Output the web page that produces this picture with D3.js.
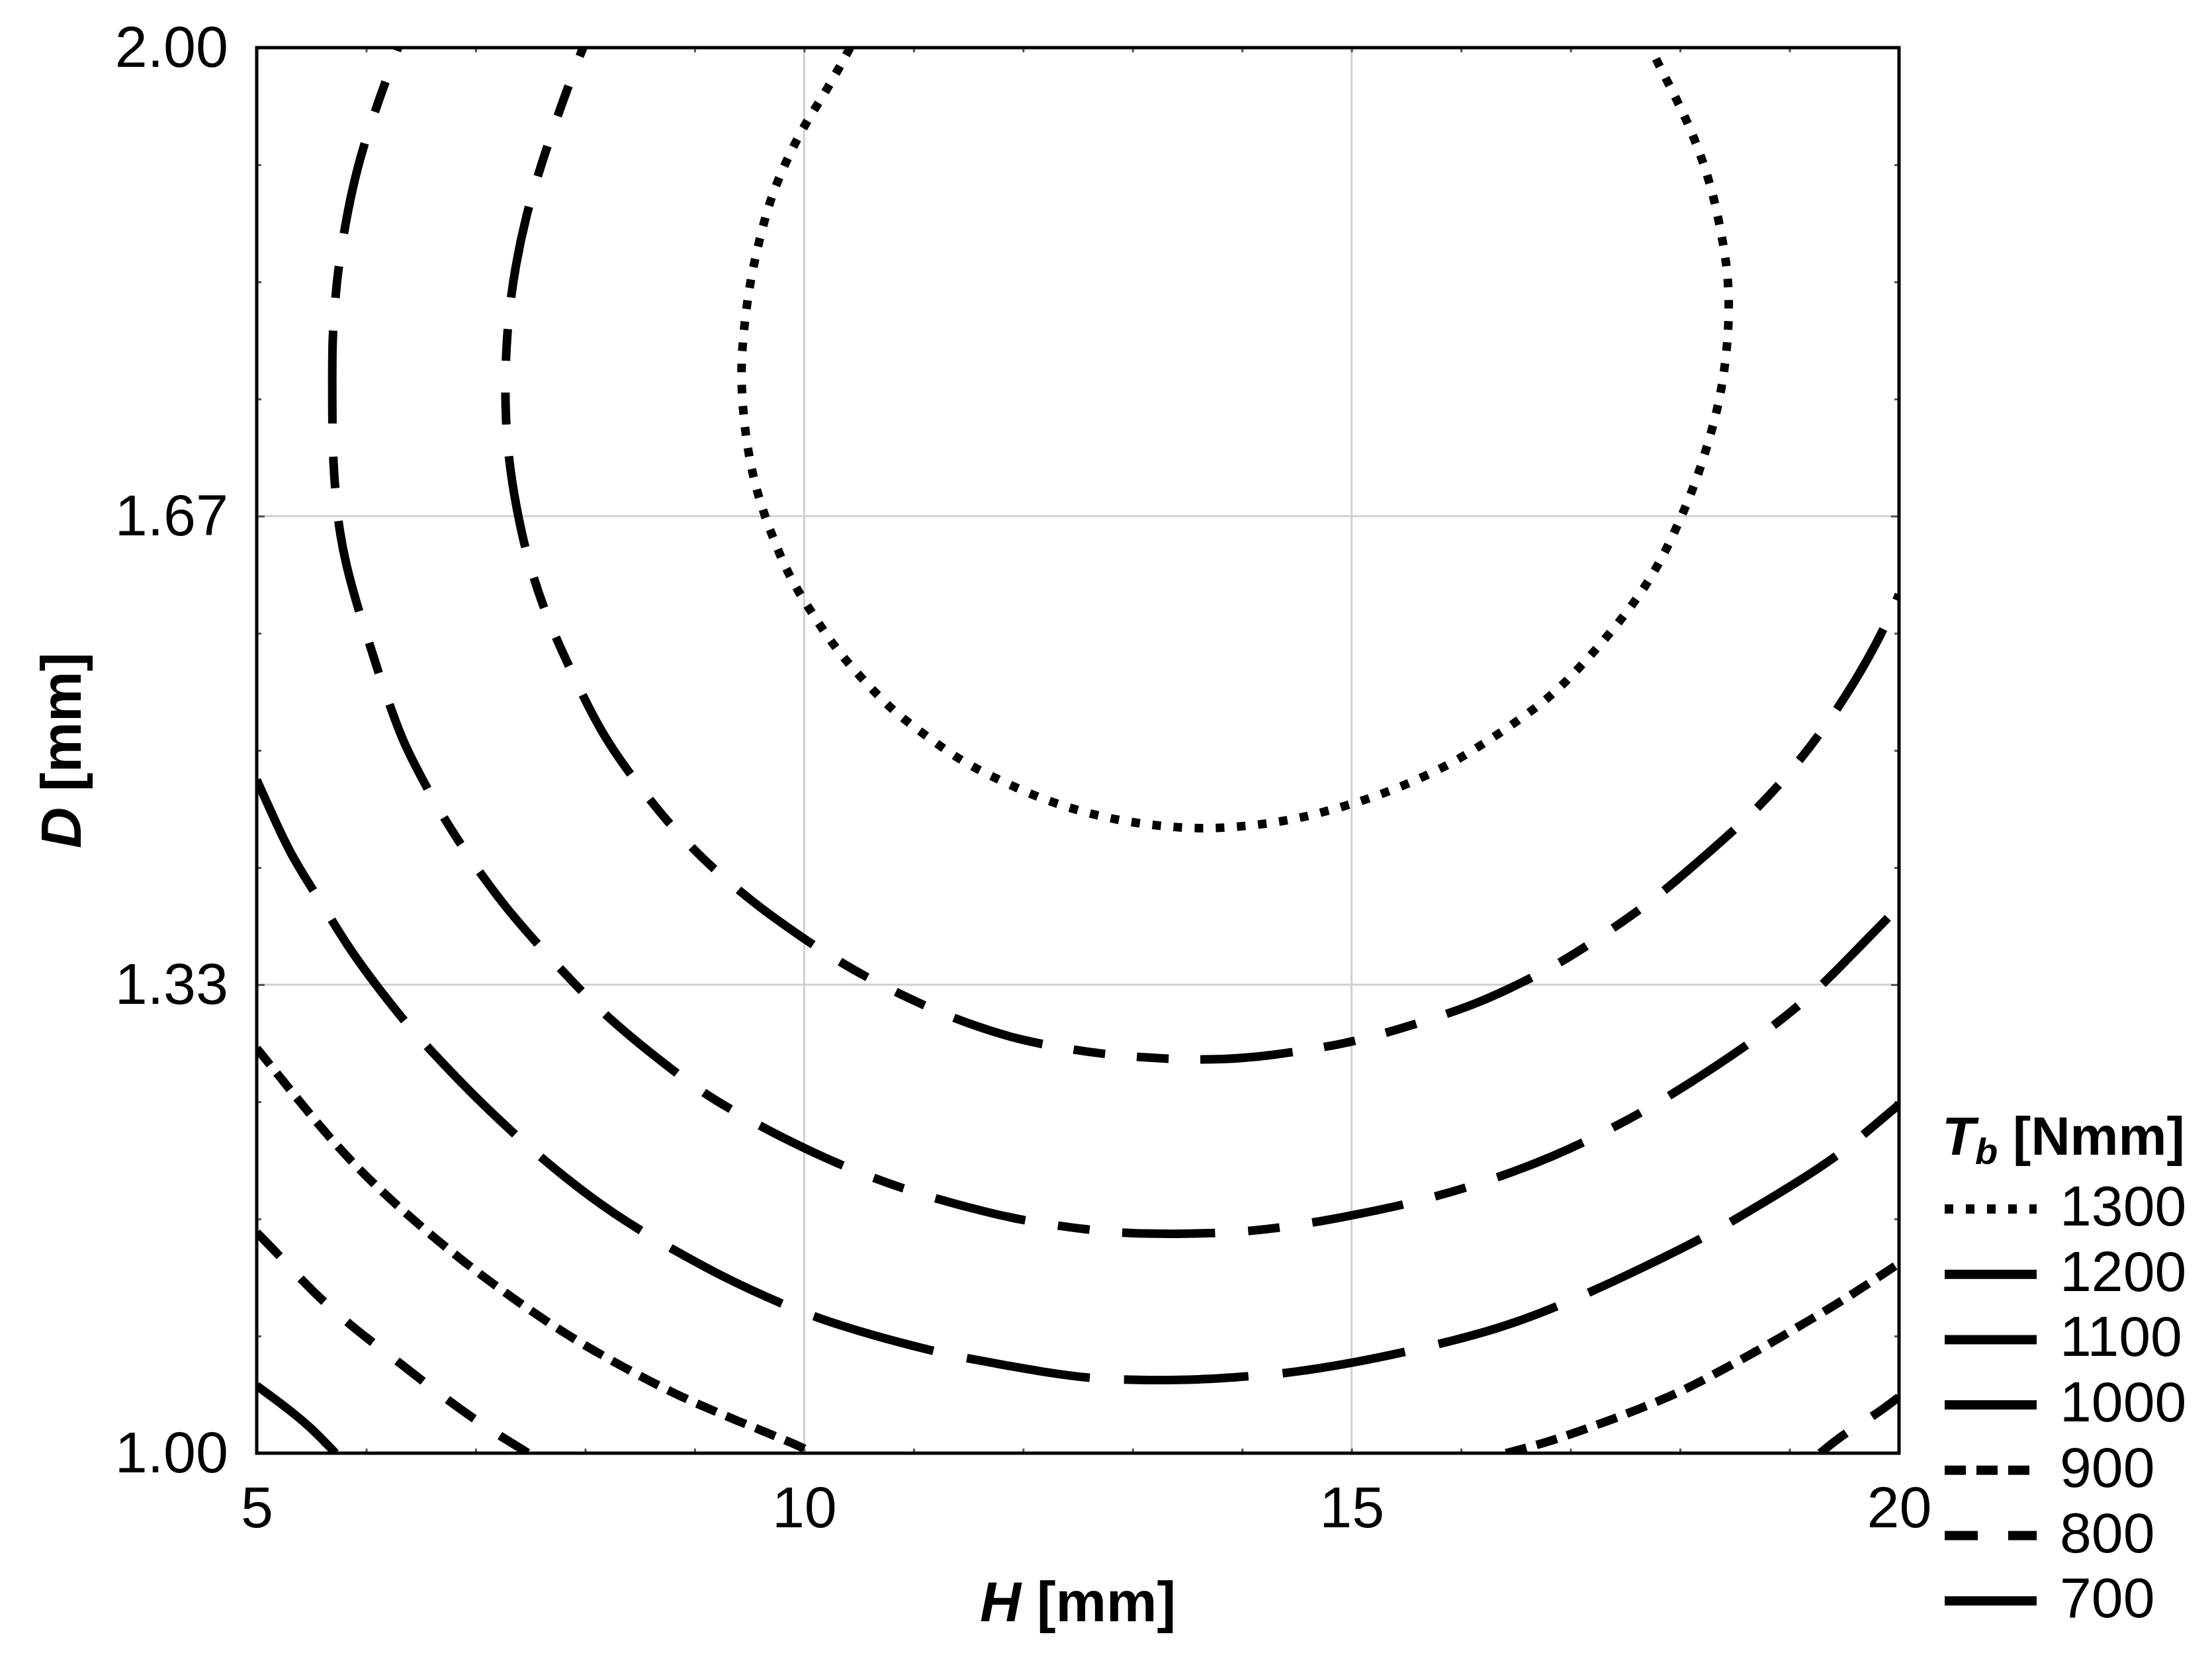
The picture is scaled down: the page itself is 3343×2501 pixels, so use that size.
<!DOCTYPE html>
<html><head><meta charset="utf-8">
<script src="https://cdn.jsdelivr.net/npm/d3@7"></script>
<style>html,body{margin:0;padding:0;background:#fff;} svg{display:block;}</style>
</head><body>
<script>
// ---------- data ----------
const levels = [1300, 1200, 1100, 1000, 900, 800, 700];
const xTicks = [5, 10, 15, 20];
const yTicks = [1.0, 4/3, 5/3, 2.0];
const yTickLabels = ["1.00", "1.33", "1.67", "2.00"];

// contour lines, [H, D] points
const tb1300 = [[10.42,2.0],[10.21,1.970],[10.0,1.945],[9.82,1.917],[9.68,1.890],[9.58,1.860],[9.50,1.831],[9.45,1.801],[9.42,1.771],[9.44,1.741],[9.49,1.710],[9.58,1.680],[9.71,1.652],[9.86,1.624],[10.06,1.599],[10.28,1.573],[10.54,1.550],[10.81,1.528],[11.12,1.510],[11.44,1.492],[11.78,1.479],[12.12,1.467],[12.50,1.457],[12.88,1.450],[13.26,1.446],[13.65,1.444],[14.04,1.446],[14.43,1.450],[14.79,1.457],[15.18,1.466],[15.54,1.477],[15.90,1.490],[16.21,1.505],[16.54,1.522],[16.86,1.541],[17.12,1.562],[17.38,1.585],[17.62,1.609],[17.82,1.634],[17.99,1.662],[18.14,1.690],[18.26,1.719],[18.36,1.748],[18.42,1.778],[18.45,1.808],[18.44,1.839],[18.38,1.867],[18.30,1.897],[18.18,1.926],[18.03,1.954],[17.85,1.981],[17.73,2.0]];
const tb1200 = [[7.98,2.0],[7.77,1.957],[7.59,1.915],[7.46,1.881],[7.36,1.844],[7.30,1.810],[7.27,1.775],[7.27,1.736],[7.31,1.701],[7.38,1.669],[7.47,1.637],[7.64,1.596],[7.85,1.560],[8.15,1.511],[8.48,1.476],[8.77,1.447],[9.16,1.416],[9.61,1.387],[10.0,1.366],[10.21,1.355],[10.60,1.337],[11.13,1.317],[11.55,1.304],[11.97,1.294],[12.38,1.288],[12.81,1.283],[13.40,1.280],[13.85,1.280],[14.27,1.283],[14.69,1.288],[15.02,1.293],[15.27,1.298],[15.70,1.308],[16.15,1.320],[16.51,1.333],[16.89,1.348],[17.27,1.367],[17.75,1.393],[18.14,1.419],[18.71,1.458],[19.09,1.492],[19.45,1.530],[19.81,1.577],[20.0,1.611]];
const tb1100 = [[6.29,2.0],[6.12,1.964],[5.97,1.929],[5.87,1.899],[5.79,1.866],[5.74,1.840],[5.71,1.815],[5.69,1.790],[5.69,1.763],[5.69,1.730],[5.70,1.704],[5.72,1.682],[5.75,1.659],[5.81,1.633],[5.94,1.597],[6.05,1.571],[6.13,1.551],[6.23,1.529],[6.34,1.505],[6.57,1.471],[6.76,1.445],[7.09,1.407],[7.31,1.385],[7.59,1.360],[7.83,1.340],[8.22,1.308],[8.87,1.268],[9.16,1.252],[9.66,1.230],[10.0,1.217],[10.42,1.202],[10.97,1.186],[11.68,1.171],[12.10,1.164],[12.69,1.158],[13.00,1.156],[13.85,1.156],[14.43,1.161],[15.0,1.169],[15.56,1.178],[16.15,1.191],[16.83,1.210],[17.51,1.236],[18.01,1.259],[18.71,1.295],[19.16,1.323],[19.40,1.341],[20.0,1.389]];
const tb1000 = [[5.0,1.479],[5.15,1.453],[5.31,1.426],[5.52,1.400],[5.68,1.380],[5.83,1.361],[6.02,1.340],[6.34,1.308],[6.57,1.288],[6.96,1.256],[7.34,1.228],[7.60,1.210],[8.06,1.181],[8.51,1.158],[8.80,1.145],[9.29,1.124],[9.80,1.106],[10.13,1.096],[10.61,1.084],[11.21,1.072],[11.52,1.067],[12.23,1.057],[12.65,1.053],[13.00,1.052],[13.62,1.052],[14.11,1.055],[14.43,1.057],[15.0,1.064],[15.56,1.073],[16.34,1.088],[16.94,1.106],[17.64,1.131],[18.28,1.156],[18.54,1.168],[19.06,1.192],[19.50,1.215],[19.74,1.231],[20.0,1.248]];
const tb900a = [[5.0,1.288],[5.24,1.265],[5.60,1.230],[5.99,1.197],[6.44,1.165],[6.89,1.136],[7.34,1.110],[7.83,1.084],[8.35,1.061],[8.84,1.041],[9.42,1.022],[10.0,1.004],[10.06,1.0]];
const tb900b = [[16.41,1.0],[16.80,1.008],[17.09,1.016],[17.38,1.024],[17.64,1.032],[17.93,1.041],[18.19,1.051],[18.45,1.062],[18.71,1.073],[18.93,1.083],[19.19,1.095],[19.45,1.107],[19.71,1.120],[20.0,1.135]];
const tb800a = [[5.0,1.157],[5.19,1.142],[5.40,1.124],[5.62,1.107],[5.86,1.091],[6.07,1.078],[6.31,1.064],[6.52,1.051],[6.76,1.037],[6.99,1.024],[7.25,1.011],[7.48,1.0]];
const tb800b = [[19.28,1.0],[19.48,1.013],[19.78,1.027],[20.0,1.040]];
const tb700 = [[5.0,1.048],[5.28,1.032],[5.50,1.018],[5.72,1.0]];

// ---------- styles ----------
const dashStyle = {
  1300: "13,19",
  1200: "140,48,48,48,48,48",
  1100: "140,50,48,50",
  1000: "188,52",
  900: "32,16",
  800: "50,46",
  700: null
};
const lines = [
  {level:1300, pts:tb1300, off:0},
  {level:1200, pts:tb1200, off:126},
  {level:1100, pts:tb1100, off:135},
  {level:1000, pts:tb1000, off:0},
  {level:900, pts:tb900a, off:0},
  {level:900, pts:tb900b, off:0},
  {level:800, pts:tb800a, off:0},
  {level:800, pts:tb800b, off:0},
  {level:700, pts:tb700, off:0}
];

const W = 3343, H = 2501;
const L = 388, R = 2870, T = 72, B = 2196;
const font = "'Liberation Sans', Arial, sans-serif";

const svg = d3.select("body").append("svg").attr("width", W).attr("height", H)
  .style("background", "#fff");

const x = d3.scaleLinear().domain([5, 20]).range([L, R]);
const y = d3.scaleLinear().domain([1, 2]).range([B, T]);

// grid
const grid = svg.append("g");
grid.selectAll("line.gx").data([10, 15]).join("line")
  .attr("x1", d => x(d)).attr("x2", d => x(d)).attr("y1", T).attr("y2", B)
  .attr("stroke", "#cfcfcf").attr("stroke-width", 3);
grid.selectAll("line.gy").data([4/3, 5/3]).join("line")
  .attr("y1", d => y(d)).attr("y2", d => y(d)).attr("x1", L).attr("x2", R)
  .attr("stroke", "#cfcfcf").attr("stroke-width", 3);

// minor ticks (inside, all four sides)
function tickStyle(g) {
  g.select(".domain").remove();
  g.selectAll(".tick line").attr("stroke", "#555").attr("stroke-width", 3);
}
const xMinor = d3.range(5, 21, 1);
const yMinor = d3.range(0, 13).map(i => 1 + i / 12);
svg.append("g").attr("transform", `translate(0,${B})`)
  .call(d3.axisBottom(x).tickValues(xMinor).tickSize(-7).tickFormat("")).call(tickStyle);
svg.append("g").attr("transform", `translate(0,${T})`)
  .call(d3.axisTop(x).tickValues(xMinor).tickSize(-7).tickFormat("")).call(tickStyle);
svg.append("g").attr("transform", `translate(${L},0)`)
  .call(d3.axisLeft(y).tickValues(yMinor).tickSize(-7).tickFormat("")).call(tickStyle);
svg.append("g").attr("transform", `translate(${R},0)`)
  .call(d3.axisRight(y).tickValues(yMinor).tickSize(-7).tickFormat("")).call(tickStyle);
// major ticks
svg.append("g").attr("transform", `translate(${L},0)`)
  .call(d3.axisLeft(y).tickValues(yTicks).tickSize(-12).tickFormat("")).call(tickStyle);
svg.append("g").attr("transform", `translate(${R},0)`)
  .call(d3.axisRight(y).tickValues(yTicks).tickSize(-12).tickFormat("")).call(tickStyle);

// clip
svg.append("defs").append("clipPath").attr("id", "plotclip")
  .append("rect").attr("x", L).attr("y", T).attr("width", R - L).attr("height", B - T);

// contour lines
const lineGen = d3.line().x(d => x(d[0])).y(d => y(d[1])).curve(d3.curveBasis);
svg.append("g").attr("clip-path", "url(#plotclip)")
  .selectAll("path").data(lines).join("path")
  .attr("d", d => lineGen(d.pts))
  .attr("fill", "none").attr("stroke", "#000").attr("stroke-width", 13)
  .attr("stroke-linecap", "butt").attr("stroke-linejoin", "round")
  .attr("stroke-dasharray", d => dashStyle[d.level])
  .attr("stroke-dashoffset", d => d.off);

// frame
svg.append("rect").attr("x", L).attr("y", T).attr("width", R - L).attr("height", B - T)
  .attr("fill", "none").attr("stroke", "#000").attr("stroke-width", 5);

// tick labels
const yAx = svg.append("g").attr("transform", `translate(${L},0)`)
  .call(d3.axisLeft(y).tickValues(yTicks).tickSize(0).tickPadding(43)
    .tickFormat((d, i) => yTickLabels[i]));
yAx.select(".domain").remove();
yAx.selectAll("text").attr("font-family", font).attr("font-size", 88).attr("fill", "#000");

const xAx = svg.append("g").attr("transform", `translate(0,${B})`)
  .call(d3.axisBottom(x).tickValues(xTicks).tickSize(0).tickPadding(50).tickFormat(d3.format("d")));
xAx.select(".domain").remove();
xAx.selectAll("text").attr("font-family", font).attr("font-size", 88).attr("fill", "#000");

// axis titles
const xt = svg.append("text").attr("x", (L + R) / 2).attr("y", 2450)
  .attr("text-anchor", "middle").attr("font-family", font).attr("font-size", 86)
  .attr("font-weight", "bold");
xt.append("tspan").attr("font-style", "italic").text("H");
xt.append("tspan").text(" [mm]");

const yt = svg.append("text").attr("transform", `translate(122,${(T + B) / 2}) rotate(-90)`)
  .attr("text-anchor", "middle").attr("font-family", font).attr("font-size", 86)
  .attr("font-weight", "bold");
yt.append("tspan").attr("font-style", "italic").text("D");
yt.append("tspan").text(" [mm]");

// legend
const lg = svg.append("g");
const lt = lg.append("text").attr("x", 2935).attr("y", 1745)
  .attr("font-family", font).attr("font-size", 82).attr("font-weight", "bold");
lt.append("tspan").attr("font-style", "italic").text("T");
lt.append("tspan").attr("font-style", "italic").attr("font-size", 56).attr("dy", 14).text("b");
lt.append("tspan").attr("dy", -14).text(" [Nmm]");

const rowY = i => 1827 + i * 98.7;
const items = lg.selectAll("g.item").data(levels).join("g").attr("class", "item");
items.append("line")
  .attr("x1", 2939).attr("x2", 3078)
  .attr("y1", (d, i) => rowY(i)).attr("y2", (d, i) => rowY(i))
  .attr("stroke", "#000").attr("stroke-width", 14)
  .attr("stroke-dasharray", d => dashStyle[d]);
items.append("text")
  .attr("x", 3113).attr("y", (d, i) => rowY(i) + 25)
  .attr("font-family", font).attr("font-size", 86).attr("fill", "#000")
  .text(d => d);
</script>
</body></html>
